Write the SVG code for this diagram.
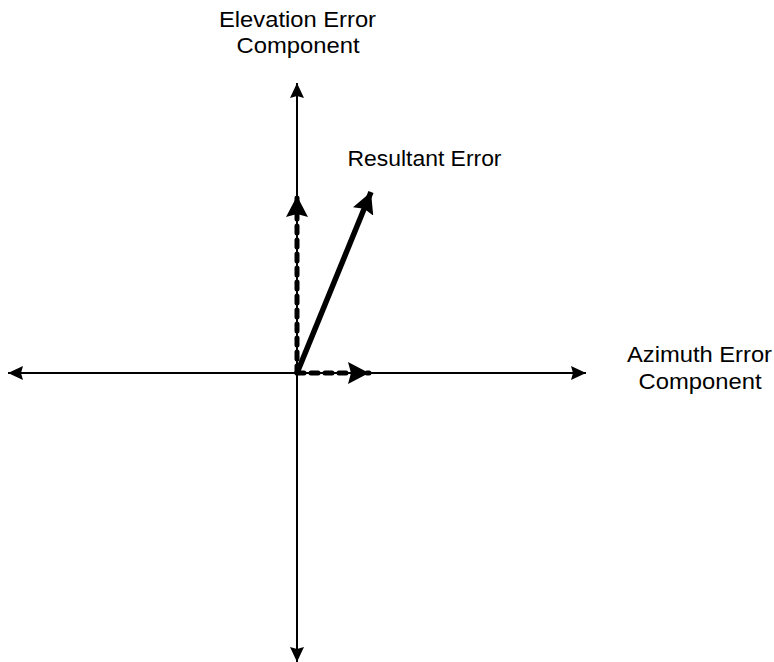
<svg xmlns="http://www.w3.org/2000/svg" width="774" height="662" viewBox="0 0 774 662">
<style>
text{font-family:"Liberation Sans",Arial,sans-serif;font-size:22px;fill:#000;text-anchor:middle}
.ax{stroke:#000;stroke-width:2;fill:none}
.dash{stroke:#000;stroke-width:5;stroke-dasharray:7,7;stroke-linecap:round;fill:none}
.res{stroke:#000;stroke-width:5.5;fill:none}
</style>
<defs>
<marker id="ah" viewBox="0 0 15 14" refX="15" refY="7" markerWidth="15" markerHeight="14" markerUnits="userSpaceOnUse" orient="auto"><path d="M0,0 L15,7 L0,14 L2,7 Z" fill="#000"/></marker>
<marker id="ahb" viewBox="0 0 21 22" refX="21" refY="11" markerWidth="21" markerHeight="22" markerUnits="userSpaceOnUse" orient="auto"><path d="M0,0 L21,11 L0,22 L3,11 Z" fill="#000"/></marker>
</defs>
<g id="connectors">
<line class="ax" x1="297" y1="373" x2="8" y2="373" marker-end="url(#ah)"/>
<line class="ax" x1="297" y1="373" x2="586" y2="373" marker-end="url(#ah)"/>
<line class="ax" x1="297" y1="373" x2="297" y2="83" marker-end="url(#ah)"/>
<line class="ax" x1="297" y1="373" x2="297" y2="662" marker-end="url(#ah)"/>
<line class="dash" x1="297" y1="373" x2="297" y2="196" marker-end="url(#ahb)"/>
<line class="dash" x1="297" y1="373" x2="369" y2="373" marker-end="url(#ahb)"/>
<line class="res" x1="297" y1="373" x2="371" y2="192" marker-end="url(#ahb)"/>
</g>
<g id="elevation-label"><text x="297.5" y="27" textLength="157" lengthAdjust="spacingAndGlyphs">Elevation Error</text><text x="298" y="53" textLength="123" lengthAdjust="spacingAndGlyphs">Component</text></g>
<g id="resultant-label"><text x="424.5" y="166" textLength="154" lengthAdjust="spacingAndGlyphs">Resultant Error</text></g>
<g id="azimuth-label"><text x="699.5" y="362" textLength="145" lengthAdjust="spacingAndGlyphs">Azimuth Error</text><text x="700" y="389" textLength="123" lengthAdjust="spacingAndGlyphs">Component</text></g>
</svg>
